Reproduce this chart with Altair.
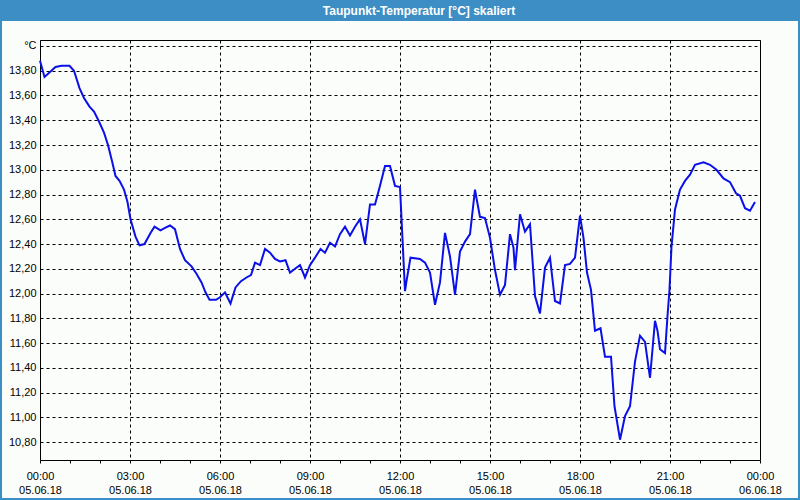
import altair as alt
import pandas as pd

# time of each reading in minutes after 05.06.18 00:00
minutes = [0, 9, 31, 43, 59, 68, 79, 88, 99, 108, 118, 128, 136, 144, 151, 159, 168, 175, 181, 191,
           199, 209, 221, 229, 241, 250, 260, 270, 280, 290, 303, 313, 323, 331, 339, 352, 360, 370, 381, 391,
           402, 413, 422, 430, 440, 450, 460, 470, 480, 491, 500, 510, 520, 530, 540, 550, 561, 570, 580, 590,
           600, 610, 620, 630, 640, 650, 660, 670, 680, 690, 700, 710, 720, 730, 733, 741, 760, 770, 780, 790,
           800, 810, 820, 830, 840, 850, 860, 870, 873, 880, 890, 900, 910, 920, 930, 940, 947, 950, 960, 970,
           980, 990, 1000, 1010, 1020, 1030, 1040, 1050, 1060, 1070, 1080, 1087, 1094, 1102, 1110, 1121, 1130, 1142, 1149, 1160,
           1170, 1180, 1190, 1200, 1210, 1220, 1230, 1235, 1240, 1250, 1255, 1259, 1263, 1270, 1280, 1290, 1300, 1310, 1327, 1340,
           1353, 1367, 1380, 1392, 1400, 1410, 1420, 1430]
# dew point temperature in °C
values = [13.88, 13.75, 13.83, 13.84, 13.84, 13.80, 13.66, 13.58, 13.51, 13.47, 13.39, 13.30, 13.20, 13.07, 12.95, 12.91, 12.84, 12.74, 12.60, 12.46,
          12.39, 12.40, 12.49, 12.54, 12.51, 12.53, 12.55, 12.52, 12.36, 12.27, 12.22, 12.16, 12.09, 12.01, 11.95, 11.95, 11.97, 12.01, 11.92, 12.05,
          12.10, 12.13, 12.15, 12.25, 12.23, 12.36, 12.33, 12.28, 12.26, 12.27, 12.17, 12.20, 12.23, 12.13, 12.23, 12.29, 12.36, 12.33, 12.41, 12.38,
          12.48, 12.54, 12.47, 12.54, 12.60, 12.40, 12.72, 12.72, 12.87, 13.03, 13.03, 12.87, 12.86, 12.02, 12.10, 12.29, 12.28, 12.25, 12.17, 11.91,
          12.09, 12.49, 12.30, 11.99, 12.34, 12.42, 12.48, 12.84, 12.77, 12.62, 12.61, 12.45, 12.19, 11.99, 12.07, 12.48, 12.37, 12.19, 12.64, 12.50,
          12.56, 11.98, 11.84, 12.21, 12.29, 11.94, 11.92, 12.23, 12.24, 12.29, 12.63, 12.45, 12.17, 12.03, 11.70, 11.72, 11.49, 11.49, 11.09, 10.82,
          11.01, 11.09, 11.45, 11.66, 11.61, 11.32, 11.78, 11.70, 11.55, 11.52, 11.82, 12.03, 12.38, 12.68, 12.84, 12.91, 12.96, 13.04, 13.06, 13.04,
          13.00, 12.93, 12.90, 12.81, 12.79, 12.69, 12.67, 12.74]

x_ticks = list(range(0, 25))                       # hours
y_ticks = [round(10.8 + 0.2 * i, 2) for i in range(17)]  # 10,80 ... 14,00 (°C)
title_text = "Taupunkt-Temperatur [°C] skaliert"

df = pd.DataFrame({"h": [m / 60 for m in minutes], "v": values})

BLUE = "#3d8ec4"
FONT = "Liberation Sans"

x_scale = alt.Scale(domain=[0, 24], nice=False, zero=False)
y_scale = alt.Scale(domain=[10.656, 14.048], nice=False, zero=False)

x_label_expr = (
    "datum.value % 3 == 0 ? ["
    "((datum.value % 24) < 10 ? '0' : '') + (datum.value % 24) + ':00', "
    "datum.value >= 24 ? '06.06.18' : '05.06.18'] : ''"
)
y_label_expr = "datum.value > 13.99 ? '°C' : replace(format(datum.value, '.2f'), '.', ',')"

line = alt.Chart(df).mark_line(color="#0a10e8", strokeWidth=2).encode(
    x=alt.X("h:Q", scale=x_scale, title=None,
            axis=alt.Axis(values=x_ticks, labelExpr=x_label_expr, grid=True,
                          gridOpacity={"condition": {"test": "datum.value % 3 == 0", "value": 1}, "value": 0},
                          gridColor="black", gridDash=[3, 3], gridWidth=1,
                          domain=False, ticks=True, tickSize=3, tickColor="black", tickWidth=1,
                          labelFont=FONT, labelFontSize=11, labelColor="black",
                          labelPadding=7, labelLineHeight=14, labelOverlap=False,
                          labelFlush=False, labelBound=False)),
    y=alt.Y("v:Q", scale=y_scale, title=None,
            axis=alt.Axis(values=y_ticks, labelExpr=y_label_expr, grid=True,
                          gridColor="black", gridDash=[3, 3], gridWidth=1,
                          domain=False, ticks=False, labelPadding=4,
                          labelFont=FONT, labelFontSize=11, labelColor="black",
                          labelOverlap=False, labelFlush=False, labelBound=False)),
)

deco = alt.Data(values=[{}])
title_bar = alt.Chart(deco).mark_rect(color=BLUE).encode(
    x=alt.value(-40), x2=alt.value(760), y=alt.value(-40), y2=alt.value(-19)
)
frame = alt.Chart(deco).mark_rect(fill=None, stroke=BLUE, strokeWidth=2).encode(
    x=alt.value(-39), x2=alt.value(759), y=alt.value(-30), y2=alt.value(459)
)
title_mark = alt.Chart(deco).mark_text(
    color="white", font=FONT, fontSize=12, fontWeight="bold", align="center", baseline="middle"
).encode(x=alt.value(379), y=alt.value(-29), text=alt.value(title_text))

chart = alt.layer(title_bar, frame, title_mark, line).properties(
    width=720, height=420,
    autosize=alt.AutoSizeParams(type="none"),
    padding={"left": 40, "top": 40, "right": 40, "bottom": 40},
    background="#fbfdfb",
).configure_view(stroke="black", strokeWidth=1)

chart.save("out.html", embed_options={"renderer": "svg", "actions": False})
